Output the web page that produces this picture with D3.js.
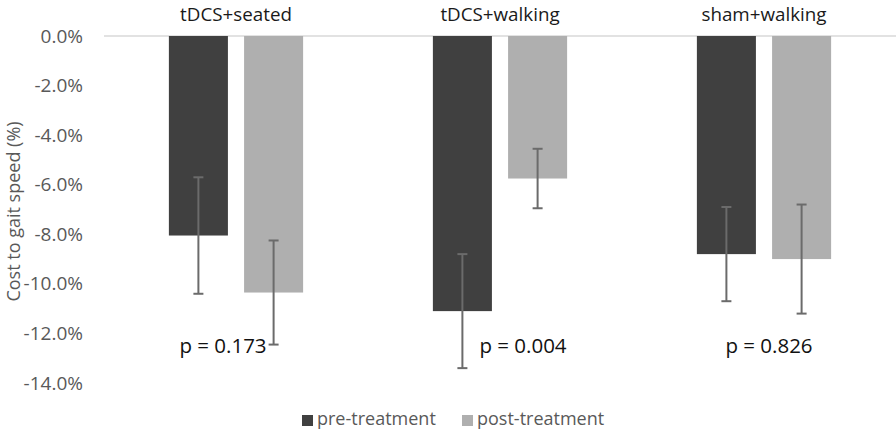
<!DOCTYPE html>
<html>
<head>
<meta charset="utf-8">
<script src="https://cdn.jsdelivr.net/npm/d3@7"></script>
<style>
  html, body { margin: 0; padding: 0; background: #fff; }
  svg { display: block; font-family: "Open Sans", "Noto Sans", sans-serif; }
</style>
</head>
<body>
<svg id="chart" width="896" height="431"></svg>
<script>
// ---- data ----
const categories = ["tDCS+seated", "tDCS+walking", "sham+walking"];
const seriesNames = ["pre-treatment", "post-treatment"];
const preValues = [-8.05, -11.1, -8.8];
const postValues = [-10.35, -5.75, -9.0];
const preErr = [2.35, 2.3, 1.9];
const postErr = [2.1, 1.2, 2.2];
const pLabels = ["p = 0.173", "p = 0.004", "p = 0.826"];
const yTicks = [0, -2, -4, -6, -8, -10, -12, -14];
const colors = ["#404040", "#afafaf"];

// ---- layout ----
const svg = d3.select("#chart");
const plot = { left: 104, right: 896, top: 36, bottom: 383 };

const x0 = d3.scaleBand().domain(categories).range([plot.left, plot.right]).padding(0);
const half = x0.bandwidth() / 2;
const x1 = d3.scaleBand().domain(seriesNames)
  .range([half - 75.2, half + 75.2]).paddingInner(0.215).paddingOuter(0.1075);
const y = d3.scaleLinear().domain([-14, 0]).range([plot.bottom, plot.top]);

// zero line
svg.append("line")
  .attr("x1", plot.left).attr("x2", plot.right)
  .attr("y1", y(0)).attr("y2", y(0))
  .attr("stroke", "#d9d9d9").attr("stroke-width", 1.5);

// y axis
const yAxis = d3.axisLeft(y).tickValues(yTicks).tickSize(0).tickPadding(21)
  .tickFormat(d => d.toFixed(1) + "%");
const gy = svg.append("g").attr("transform", `translate(${plot.left},0)`).call(yAxis);
gy.select(".domain").remove();
gy.selectAll("text").attr("fill", "#595959").style("font-size", "19px")
  .style("font-family", "'Open Sans', sans-serif");

// y title
svg.append("text")
  .attr("transform", `translate(20,${(plot.top + plot.bottom) / 2 + 2}) rotate(-90)`)
  .attr("text-anchor", "middle")
  .attr("fill", "#595959").style("font-size", "18px")
  .text("Cost to gait speed (%)");

// category titles on top
svg.selectAll(".cat").data(categories).enter().append("text")
  .attr("class", "cat")
  .attr("x", d => x0(d) + half).attr("y", 20.5)
  .attr("text-anchor", "middle")
  .attr("fill", "#1a1a1a").style("font-size", "18.8px")
  .text(d => d);

// bars
const rows = categories.map((c, i) => ({
  cat: c,
  vals: [
    { s: seriesNames[0], v: preValues[i], e: preErr[i], k: 0 },
    { s: seriesNames[1], v: postValues[i], e: postErr[i], k: 1 }
  ]
}));

const groups = svg.selectAll(".grp").data(rows).enter().append("g")
  .attr("class", "grp").attr("transform", d => `translate(${x0(d.cat)},0)`);

groups.selectAll("rect").data(d => d.vals).enter().append("rect")
  .attr("x", d => x1(d.s)).attr("width", x1.bandwidth())
  .attr("y", d => y(0)).attr("height", d => y(d.v) - y(0))
  .attr("fill", d => colors[d.k]);

// error bars
const eb = groups.selectAll(".err").data(d => d.vals).enter().append("g").attr("class", "err");
const capW = 5;
eb.append("line")
  .attr("x1", d => x1(d.s) + x1.bandwidth() / 2).attr("x2", d => x1(d.s) + x1.bandwidth() / 2)
  .attr("y1", d => y(d.v + d.e)).attr("y2", d => y(d.v - d.e))
  .attr("stroke", "#6b6b6b").attr("stroke-width", 2);
[1, -1].forEach(sg => {
  eb.append("line")
    .attr("x1", d => x1(d.s) + x1.bandwidth() / 2 - capW).attr("x2", d => x1(d.s) + x1.bandwidth() / 2 + capW)
    .attr("y1", d => y(d.v + sg * d.e)).attr("y2", d => y(d.v + sg * d.e))
    .attr("stroke", "#6b6b6b").attr("stroke-width", 2);
});

// p-value annotations
const pOffsets = [-13, 23, 5];
svg.selectAll(".pval").data(pLabels).enter().append("text")
  .attr("class", "pval")
  .attr("x", (d, i) => x0(categories[i]) + half + pOffsets[i])
  .attr("y", 348)
  .attr("text-anchor", "middle").attr("dominant-baseline", "middle")
  .attr("fill", "#111").style("font-size", "20.5px")
  .text(d => d);

// legend
const legend = svg.append("g");
const legX = [302, 462];
seriesNames.forEach((s, i) => {
  legend.append("rect").attr("x", legX[i]).attr("y", 415).attr("width", 11).attr("height", 11)
    .attr("fill", colors[i]);
  legend.append("text").attr("x", legX[i] + 15).attr("y", 420.5)
    .attr("dominant-baseline", "middle").attr("fill", "#595959")
    .style("font-size", "18px").text(s);
});
</script>
</body>
</html>
